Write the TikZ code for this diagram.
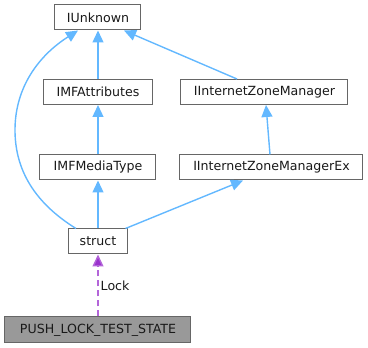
\documentclass[tikz,border=0pt]{standalone}
\usepackage{fontspec}
\setmainfont{DejaVu Sans}
\usetikzlibrary{arrows.meta}
\definecolor{edgeblue}{HTML}{63B8FF}
\definecolor{edgepurple}{HTML}{9A32CD}
\definecolor{boxborder}{HTML}{666666}
\definecolor{boxfill}{HTML}{999999}
\begin{document}
\begin{tikzpicture}[x=1pt,y=-1pt,
  cls/.style={draw=boxborder,line width=1pt,fill=white,inner sep=0pt,minimum height=25pt,
    font=\fontsize{12.6}{14}\selectfont,text=black!90},
  edge/.style={draw=edgeblue,line width=1.4pt,-{Triangle[length=12pt,width=11pt]}},
  usage/.style={draw=edgepurple!75,line width=1.4pt,dash pattern=on 6pt off 4pt,
    -{Triangle[length=12pt,width=11pt,fill=edgepurple,sep=0pt]}}]
\useasboundingbox (0,0) rectangle (368,348);
\node[cls,minimum width=86pt] (iu) at (98,17.5) {IUnknown};
\node[cls,minimum width=109pt] (mfa) at (98,92) {IMFAttributes};
\node[cls,minimum width=167pt] (izm) at (264.5,92) {IInternetZoneManager};
\node[cls,minimum width=116pt] (mft) at (98,167.5) {IMFMediaType};
\node[cls,minimum width=183pt] (izmx) at (271.5,167.5) {IInternetZoneManagerEx};
\node[cls,minimum width=59pt] (st) at (98,241.5) {struct};
\node[cls,fill=boxfill,minimum width=186pt,minimum height=26pt] (pl) at (98,330) {PUSH\_LOCK\_TEST\_STATE};
\draw[edge] (st.north) -- (mft.south);
\draw[edge] (mft.north) -- (mfa.south);
\draw[edge] (mfa.north) -- (iu.south);
\draw[edge] ([xshift=-27.5pt]izm.north) -- ([xshift=26pt]iu.south);
\draw[edge] ([xshift=-1.5pt]izmx.north) -- ([xshift=1.5pt]izm.south);
\draw[edge] ([xshift=27.5pt]st.north) -- ([xshift=-28.5pt]izmx.south);
\draw[edge] ([xshift=-22pt]st.north) .. controls (30,200) and (15,165) .. (15,130)
  .. controls (15,88) and (38,56) .. ([xshift=-20pt]iu.south);
\draw[usage] (pl.north) -- (st.south) node[pos=0.5,right=1pt,font=\fontsize{12.6}{14}\selectfont,text=black!90,inner sep=1pt] (lk) {Lock};
\end{tikzpicture}
\end{document}
